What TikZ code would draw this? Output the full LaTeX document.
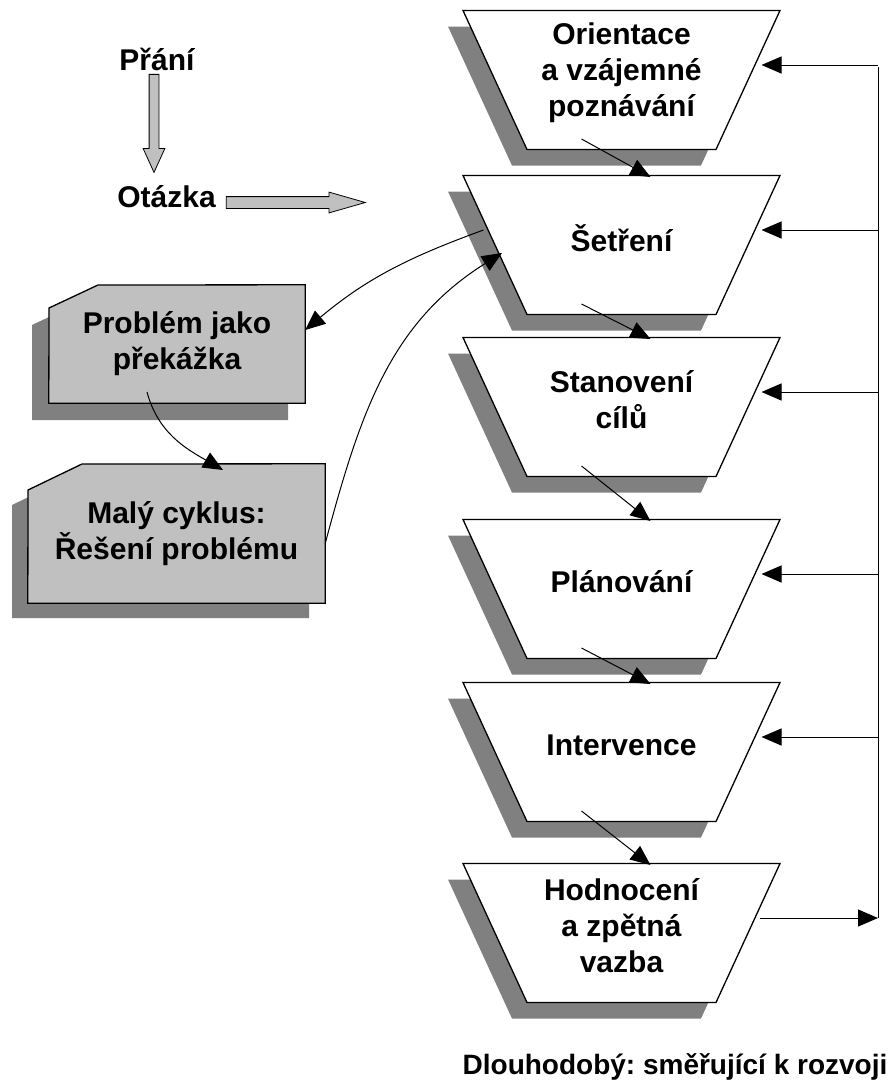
\documentclass[tikz,border=0pt]{standalone}
\usepackage{fontspec}
\setmainfont{Liberation Sans}
\usepackage{tikz}
\usetikzlibrary{positioning, shapes.arrows, calc, arrows.meta, backgrounds}
\frenchspacing
\definecolor{cyGray}{RGB}{192, 192, 192}
\definecolor{cyShadow}{RGB}{128, 128, 128}
\tikzset{
    base/.style={
        font=\bfseries\fontsize{30}{36}\selectfont,
        align=center,
        text=black
    },
    stage/.style={
        base,
        rectangle,
        inner sep=0pt
    },
    obstacle/.style={
        base,
        rectangle,
        inner sep=0pt
    },
    stageshape/.style={
        draw=black,
        line width=1.3pt,
        fill=white,
        line join=miter
    },
    obstacleshape/.style={
        draw=black,
        line width=1.3pt,
        fill=cyGray
    },
    shadowshape/.style={
        fill=cyShadow
    },
    blockarrow/.style={
        single arrow,
        draw=black,
        line width=0.8pt,
        fill=cyGray,
        inner xsep=0pt
    },
    flow/.style={
        -{Triangle[length=20pt, width=17pt]},
        line width=1pt,
        color=black
    },
    loopline/.style={
        line width=1pt,
        color=black
    }
}
\begin{document}
\begin{tikzpicture}[x=1pt, y=1pt]
  \useasboundingbox (0,0) rectangle (890,-1084);

  % Question
  \node[base, anchor=base] (prani) at (157,-70) {Přání};
  \node[base, anchor=base] (otazka) at (166.5,-207) {Otázka};
  \node[blockarrow, rotate=-90, minimum height=98pt, inner ysep=4.5pt,
        single arrow head extend=6pt, single arrow tip angle=49] (arrDown) at (154,-118) {};
  \node[blockarrow, minimum height=139pt, inner ysep=5.5pt,
        single arrow head extend=4.5pt, single arrow tip angle=32] (arrRight) at (285.5,-202.5) {};

  % Stages
  \node[stage] (orient) at (621.5,-73) {Orientace\\a vzájemné\\poznávání};
  \node[stage] (setreni) at (621.5,-238) {Šetření};
  \node[stage] (cile) at (621.5,-400) {Stanovení\\cílů};
  \node[stage] (plan) at (621.5,-582) {Plánování};
  \node[stage] (interv) at (621.5,-745) {Intervence};
  \node[stage] (hodn) at (621.5,-926) {Hodnocení\\a zpětná\\vazba};

  % Small cycle
  \node[obstacle, minimum width=256pt, minimum height=118pt] (problem) at (177,-344) {Problém jako\\překážka};
  \node[obstacle, minimum width=297pt, minimum height=139pt] (cyklus) at (176.5,-533.5) {Malý cyklus:\\Řešení problému};

  % Shapes behind the texts
  \begin{scope}[on background layer]
    \foreach \n in {orient, setreni, cile, plan, interv, hodn} {
      \fill[shadowshape] ($(\n.center)+(-173.5,46.5)$) -- ($(\n.center)+(143.5,46.5)$)
        -- ($(\n.center)+(79.5,-92.5)$) -- ($(\n.center)+(-109.5,-92.5)$) -- cycle;
      \filldraw[stageshape] ($(\n.center)+(-158.5,62.5)$) -- ($(\n.center)+(158.5,62.5)$)
        -- ($(\n.center)+(94.5,-76.5)$) -- ($(\n.center)+(-94.5,-76.5)$) -- cycle;
    }
    \fill[shadowshape] ($(problem.center)+(-145,19)$) -- ($(problem.center)+(-96,42)$)
      -- ($(problem.center)+(111,42)$) -- ($(problem.center)+(111,-76)$)
      -- ($(problem.center)+(-145,-76)$) -- cycle;
    \filldraw[obstacleshape] ($(problem.center)+(-128,36)$) -- ($(problem.center)+(-79,59)$)
      -- (problem.north east) -- (problem.south east) -- (problem.south west) -- cycle;
    \fill[shadowshape] ($(cyklus.center)+(-164.5,28.5)$) -- ($(cyklus.center)+(-110.5,54.5)$)
      -- ($(cyklus.center)+(132.5,54.5)$) -- ($(cyklus.center)+(132.5,-84.5)$)
      -- ($(cyklus.center)+(-164.5,-84.5)$) -- cycle;
    \filldraw[obstacleshape] ($(cyklus.center)+(-148.5,43.5)$) -- ($(cyklus.center)+(-94.5,69.5)$)
      -- (cyklus.north east) -- (cyklus.south east) -- (cyklus.south west) -- cycle;
  \end{scope}

  % Stage sequence
  \foreach \a/\b in {orient/setreni, setreni/cile, cile/plan, plan/interv, interv/hodn}
    \draw[flow] ($(\a.center)+(-40,-66)$) -- ($(\b.center)+(29,61)$);

  % Feedback loop
  \coordinate (loopTop) at (878,-67);
  \coordinate (loopBot) at (878,-918);
  \draw[flow] ($(hodn.center)+(138,8)$) -- (loopBot);
  \draw[loopline] (loopBot) -- (loopTop);
  \foreach \n in {orient, setreni, cile, plan, interv} {
    \coordinate (\n-in) at ($(\n.center)+(140,8)$);
    \draw[flow] (loopTop |- \n-in) -- (\n-in);
  }

  % Problem loop
  \draw[flow] ($(setreni.center)+(-138,8)$) to[out=200, in=40] ($(problem.east)+(0,14)$);
  \draw[flow] ($(problem.center)+(-30,-48)$) to[out=-75, in=150] ($(cyklus.center)+(46.5,63.5)$);
  \draw[flow] ($(cyklus.east)+(0,-10)$) to[out=75, in=212] ($(setreni.center)+(-119.5,-15)$);

  % Long-term note
  \node[base, font=\bfseries\fontsize{28}{34}\selectfont, anchor=base] (dlouho) at (675,-1074) {Dlouhodobý: směřující k rozvoji};
\end{tikzpicture}
\end{document}
